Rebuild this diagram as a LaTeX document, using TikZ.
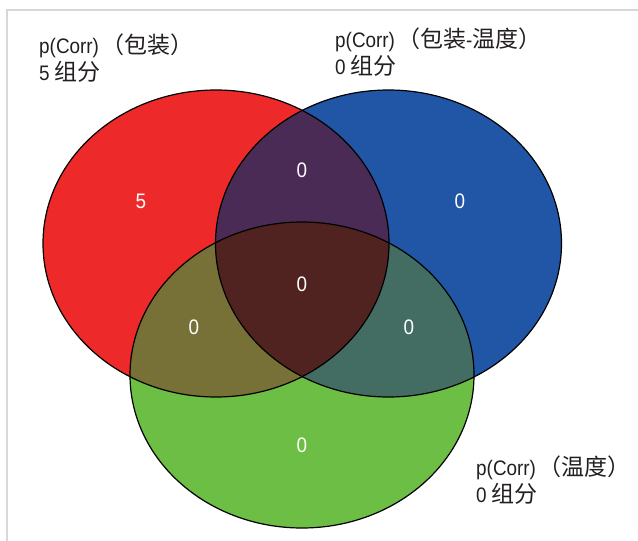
\documentclass[tikz,border=0pt]{standalone}
\usepackage{fontspec}
\setmainfont{Liberation Sans}[FakeStretch=0.9]
\newfontfamily\cjk{Noto Sans CJK SC}
\newcommand{\zh}[1]{{\cjk\fontsize{23}{28}\selectfont #1}}
\definecolor{cR}{RGB}{238,41,41}
\definecolor{cB}{RGB}{33,85,165}
\definecolor{cG}{RGB}{108,190,69}
\definecolor{cRB}{RGB}{73,43,85}
\definecolor{cRG}{RGB}{120,113,55}
\definecolor{cBG}{RGB}{67,108,98}
\definecolor{cRGB}{RGB}{80,35,32}
\definecolor{frame}{RGB}{216,216,216}
\definecolor{txt}{RGB}{35,31,32}
\begin{document}
\begin{tikzpicture}[x=1pt,y=-1pt,
  lbl/.style={anchor=base west,inner sep=0pt,text=txt,font=\fontsize{21}{26}\selectfont},
  num/.style={text=white,inner sep=0pt,font=\fontsize{21}{26}\selectfont}]
\useasboundingbox (0,0) rectangle (638,541);
\def\redE{(216,243.5) ellipse [x radius=173,y radius=153.5]}
\def\blueE{(388.5,243.5) ellipse [x radius=173,y radius=153.5]}
\def\greenE{(302,375) ellipse [x radius=172,y radius=153]}
% frame
\draw[frame,line width=1.5pt] (7,541) -- (7,10) -- (638,10);
% base fills
\fill[cR] \redE;
\fill[cB] \blueE;
\fill[cG] \greenE;
\begin{scope}\clip \redE; \fill[cRB] \blueE; \end{scope}
\begin{scope}\clip \redE; \fill[cRG] \greenE; \end{scope}
\begin{scope}\clip \blueE; \fill[cBG] \greenE; \end{scope}
\begin{scope}\clip \redE; \clip \blueE; \fill[cRGB] \greenE; \end{scope}
% outlines
\draw[black,line width=1.2pt] \redE;
\draw[black,line width=1.2pt] \blueE;
\draw[black,line width=1.2pt] \greenE;
% numbers
\node[num] (nR) at (141,201) {5};
\node[num] (nRB) at (302,170) {0};
\node[num] (nB) at (460,201) {0};
\node[num] (nRGB) at (302,284) {0};
\node[num] (nRG) at (194,327) {0};
\node[num] (nBG) at (409,327) {0};
\node[num] (nG) at (302,445) {0};
% labels
\node[lbl] (l1a) at (39,53) {p(Corr)\kern2pt\zh{（包装）}};
\node[lbl] (l1b) at (39,80.5) {5 \zh{组分}};
\node[lbl] (l2a) at (335,47) {p(Corr)\kern2pt\zh{（包装}-\zh{温度）}};
\node[lbl] (l2b) at (335,74) {0 \zh{组分}};
\node[lbl] (l3a) at (476,475) {p(Corr)\kern2pt\zh{（温度）}};
\node[lbl] (l3b) at (476,502) {0 \zh{组分}};
\end{tikzpicture}
\end{document}
